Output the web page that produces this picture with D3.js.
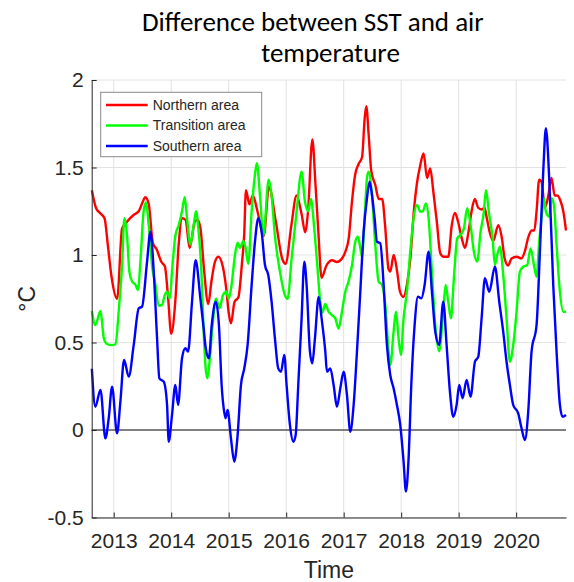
<!DOCTYPE html>
<html>
<head>
<meta charset="utf-8">
<script src="https://cdn.jsdelivr.net/npm/d3@7"></script>
<style>
  body { margin: 0; background: #fff; }
  svg { display: block; }
</style>
</head>
<body>
<svg id="chart" width="574" height="582"></svg>
<script>
// tick labels
var xTickYears = [2013, 2014, 2015, 2016, 2017, 2018, 2019, 2020];
var yTickValues = [-0.5, 0, 0.5, 1, 1.5, 2];
var yTickLabels = ["-0.5", "0", "0.5", "1", "1.5", "2"];

var seriesNames = ["Northern area", "Transition area", "Southern area"];
var titleLines = ["Difference between SST and air", "temperature"];

// [decimal year, difference in °C]
var northern = [
  [2012.62,1.37],[2012.69,1.27],[2012.76,1.24],[2012.84,1.21],[2012.90,1.05],[2012.96,0.88],
  [2013.06,0.75],[2013.145,1.15],[2013.23,1.19],[2013.35,1.23],[2013.435,1.25],[2013.50,1.30],
  [2013.55,1.33],[2013.61,1.29],[2013.68,1.07],[2013.75,1.03],[2013.83,0.96],[2013.89,0.935],
  [2013.945,0.76],[2014.00,0.55],[2014.07,0.73],[2014.13,1.06],[2014.19,1.21],[2014.25,1.20],
  [2014.32,1.04],[2014.41,1.19],[2014.46,1.20],[2014.51,1.15],[2014.57,0.92],[2014.645,0.72],
  [2014.70,0.85],[2014.76,0.96],[2014.82,0.99],[2014.90,0.93],[2014.96,0.80],[2015.00,0.67],
  [2015.04,0.61],[2015.10,0.73],[2015.17,0.76],[2015.23,0.95],[2015.27,1.12],[2015.30,1.37],
  [2015.36,1.29],[2015.42,1.34],[2015.50,1.25],[2015.61,1.11],[2015.70,1.39],[2015.82,1.19],
  [2015.93,0.98],[2015.99,0.95],[2016.09,1.17],[2016.18,1.34],[2016.27,1.23],[2016.33,1.13],
  [2016.38,1.25],[2016.455,1.66],[2016.51,1.40],[2016.56,1.13],[2016.615,0.87],[2016.70,0.94],
  [2016.80,0.97],[2016.88,0.96],[2016.97,0.98],[2017.03,1.02],[2017.09,1.10],[2017.14,1.29],
  [2017.20,1.46],[2017.26,1.52],[2017.32,1.56],[2017.365,1.78],[2017.393,1.85],[2017.434,1.69],
  [2017.48,1.48],[2017.55,1.40],[2017.61,1.32],[2017.67,1.32],[2017.72,1.17],[2017.78,0.92],
  [2017.81,0.905],[2017.87,1.0],[2017.93,0.905],[2017.98,0.79],[2018.04,0.76],[2018.10,0.83],
  [2018.16,0.98],[2018.22,1.25],[2018.27,1.40],[2018.33,1.51],[2018.39,1.58],[2018.45,1.44],
  [2018.505,1.495],[2018.56,1.36],[2018.62,1.19],[2018.68,1.01],[2018.74,0.99],[2018.82,0.99],
  [2018.88,1.17],[2018.935,1.24],[2018.99,1.19],[2019.05,1.10],[2019.11,1.04],[2019.17,1.13],
  [2019.225,1.25],[2019.28,1.32],[2019.34,1.27],[2019.40,1.26],[2019.45,1.27],[2019.49,1.21],
  [2019.54,1.13],[2019.60,1.08],[2019.69,1.17],[2019.75,1.10],[2019.80,0.98],[2019.86,0.94],
  [2019.92,0.98],[2020.01,0.99],[2020.09,0.98],[2020.15,1.02],[2020.21,1.10],[2020.27,1.14],
  [2020.315,1.14],[2020.355,1.25],[2020.40,1.43],[2020.44,1.42],[2020.50,1.27],[2020.56,1.34],
  [2020.615,1.44],[2020.67,1.34],[2020.715,1.34],[2020.77,1.31],[2020.82,1.25],[2020.867,1.14]
];

var transition = [
  [2012.62,0.68],[2012.68,0.60],[2012.77,0.68],[2012.83,0.52],[2012.89,0.49],[2012.97,0.485],
  [2013.03,0.49],[2013.087,0.68],[2013.145,0.94],[2013.186,1.21],[2013.232,1.11],[2013.272,0.905],
  [2013.318,0.85],[2013.377,0.83],[2013.42,0.80],[2013.464,0.96],[2013.52,1.25],[2013.562,1.30],
  [2013.609,1.17],[2013.667,0.94],[2013.725,0.83],[2013.783,0.71],[2013.841,0.715],[2013.887,0.77],
  [2013.928,0.79],[2013.974,0.75],[2014.014,0.905],[2014.072,1.11],[2014.13,1.17],[2014.188,1.25],
  [2014.235,1.33],[2014.275,1.21],[2014.333,1.06],[2014.391,1.17],[2014.432,1.25],[2014.478,1.13],
  [2014.525,0.905],[2014.565,0.56],[2014.60,0.35],[2014.63,0.295],[2014.67,0.40],[2014.72,0.60],
  [2014.78,0.75],[2014.84,0.695],[2014.90,0.77],[2014.96,0.79],[2015.00,0.75],[2015.05,0.83],
  [2015.109,1.0],[2015.155,1.07],[2015.196,1.04],[2015.254,1.08],[2015.294,1.04],[2015.341,0.95],
  [2015.399,1.25],[2015.457,1.46],[2015.49,1.524],[2015.544,1.34],[2015.604,1.11],[2015.695,1.43],
  [2015.746,1.34],[2015.804,1.11],[2015.891,0.905],[2015.978,0.77],[2016.025,0.75],[2016.094,0.98],
  [2016.181,1.25],[2016.268,1.476],[2016.326,1.305],[2016.384,1.25],[2016.43,1.32],[2016.488,1.15],
  [2016.546,0.92],[2016.587,0.75],[2016.628,0.67],[2016.68,0.72],[2016.738,0.676],[2016.796,0.657],
  [2016.854,0.638],[2016.912,0.58],[2016.97,0.676],[2017.028,0.79],[2017.086,0.85],[2017.144,0.94],
  [2017.202,1.076],[2017.248,1.105],[2017.289,1.04],[2017.318,0.99],[2017.364,1.21],[2017.405,1.44],
  [2017.434,1.476],[2017.492,1.343],[2017.55,1.057],[2017.608,0.848],[2017.666,0.829],[2017.724,0.714],
  [2017.781,0.448],[2017.81,0.371],[2017.868,0.562],[2017.909,0.676],[2017.955,0.524],[2017.996,0.429],
  [2018.042,0.638],[2018.10,0.79],[2018.158,1.019],[2018.216,1.21],[2018.274,1.286],[2018.332,1.248],
  [2018.373,1.248],[2018.431,1.295],[2018.477,1.21],[2018.535,0.905],[2018.593,0.60],[2018.66,0.45],
  [2018.732,0.676],[2018.773,0.829],[2018.819,0.733],[2018.865,0.638],[2018.917,0.867],[2018.975,1.095],
  [2019.033,1.114],[2019.091,1.152],[2019.149,1.267],[2019.207,1.171],[2019.265,1.019],[2019.323,0.962],
  [2019.381,1.133],[2019.439,1.248],[2019.474,1.371],[2019.532,1.229],[2019.59,1.095],[2019.631,0.943],
  [2019.671,1.0],[2019.718,1.048],[2019.775,0.886],[2019.833,0.638],[2019.891,0.39],[2019.949,0.486],
  [2020.007,0.676],[2020.065,0.905],[2020.123,0.933],[2020.193,0.943],[2020.251,1.038],[2020.309,0.943],
  [2020.355,0.876],[2020.401,1.076],[2020.442,1.21],[2020.483,1.324],[2020.517,1.248],[2020.575,1.219],
  [2020.616,1.324],[2020.657,1.286],[2020.703,1.057],[2020.761,0.79],[2020.819,0.676],[2020.867,0.676]
];

var southern = [
  [2012.62,0.35],[2012.68,0.133],[2012.77,0.229],[2012.855,-0.048],[2012.913,0.067],[2012.971,0.248],
  [2013.058,-0.019],[2013.116,0.162],[2013.18,0.40],[2013.261,0.305],[2013.348,0.486],[2013.435,0.695],
  [2013.493,0.705],[2013.58,0.962],[2013.638,1.133],[2013.696,0.905],[2013.754,0.524],[2013.794,0.295],
  [2013.87,0.276],[2013.928,0.143],[2013.957,-0.067],[2014.014,0.086],[2014.072,0.257],[2014.119,0.143],
  [2014.188,0.41],[2014.246,0.467],[2014.293,0.448],[2014.362,0.733],[2014.425,0.97],[2014.507,0.752],
  [2014.565,0.58],[2014.60,0.47],[2014.655,0.41],[2014.705,0.60],[2014.775,0.733],[2014.83,0.60],
  [2014.877,0.257],[2014.917,0.114],[2014.946,0.067],[2014.981,0.114],[2015.039,-0.048],[2015.097,-0.181],
  [2015.155,-0.029],[2015.213,0.257],[2015.271,0.352],[2015.329,0.486],[2015.399,0.829],[2015.457,1.076],
  [2015.515,1.21],[2015.573,1.133],[2015.631,0.943],[2015.688,0.886],[2015.746,0.733],[2015.804,0.524],
  [2015.862,0.352],[2015.909,0.333],[2015.967,0.429],[2016.007,0.257],[2016.065,0.029],[2016.123,-0.067],
  [2016.164,-0.03],[2016.21,0.257],[2016.268,0.638],[2016.315,0.962],[2016.355,0.829],[2016.413,0.448],
  [2016.454,0.381],[2016.5,0.524],[2016.565,0.76],[2016.616,0.638],[2016.68,0.45],[2016.709,0.333],
  [2016.767,0.352],[2016.825,0.257],[2016.883,0.133],[2016.941,0.238],[2016.999,0.333],[2017.057,0.2],
  [2017.115,-0.01],[2017.173,0.143],[2017.231,0.448],[2017.289,0.79],[2017.347,1.133],[2017.405,1.324],
  [2017.451,1.419],[2017.492,1.343],[2017.538,1.21],[2017.579,1.076],[2017.637,1.067],[2017.695,0.829],
  [2017.752,0.486],[2017.81,0.314],[2017.868,0.238],[2017.926,0.143],[2017.984,0.029],[2018.042,-0.181],
  [2018.083,-0.352],[2018.129,-0.162],[2018.176,0.257],[2018.234,0.60],[2018.292,0.762],[2018.35,0.752],
  [2018.408,0.829],[2018.477,1.019],[2018.535,0.79],[2018.593,0.562],[2018.66,0.486],[2018.732,0.733],
  [2018.79,0.486],[2018.848,0.219],[2018.906,0.076],[2018.964,0.143],[2019.01,0.257],[2019.068,0.181],
  [2019.138,0.286],[2019.207,0.19],[2019.283,0.39],[2019.341,0.419],[2019.399,0.638],[2019.457,0.867],
  [2019.532,0.79],[2019.631,0.933],[2019.706,0.733],[2019.775,0.562],[2019.833,0.39],[2019.891,0.257],
  [2019.949,0.143],[2020.036,0.095],[2020.094,0.01],[2020.152,-0.057],[2020.21,0.105],[2020.268,0.448],
  [2020.355,0.60],[2020.413,1.019],[2020.471,1.476],[2020.517,1.724],[2020.575,1.438],[2020.645,0.829],
  [2020.703,0.448],[2020.761,0.143],[2020.807,0.076],[2020.867,0.086]
];

var seriesColors = ["#ff0000", "#00ff00", "#0000ff"];
var textColor = "#262626";

var svg = d3.select("#chart");

var plot = { left: 91.7, right: 566, top: 80, bottom: 517.5 };

var x = d3.scaleLinear().domain([2012.617, 2020.867]).range([plot.left, plot.right]);
var y = d3.scaleLinear().domain([-0.5, 2]).range([plot.bottom, plot.top]);

// grid
var grid = svg.append("g").attr("class", "grid");
grid.selectAll(".vgrid")
  .data(xTickYears)
  .enter().append("line")
  .attr("x1", function (d) { return x(d); })
  .attr("x2", function (d) { return x(d); })
  .attr("y1", plot.top)
  .attr("y2", plot.bottom)
  .attr("stroke", "#e2e2e2")
  .attr("stroke-width", 1);
grid.selectAll(".hgrid")
  .data(yTickValues)
  .enter().append("line")
  .attr("x1", plot.left)
  .attr("x2", plot.right)
  .attr("y1", function (d) { return y(d); })
  .attr("y2", function (d) { return y(d); })
  .attr("stroke", "#e2e2e2")
  .attr("stroke-width", 1);

// zero reference line
svg.append("line")
  .attr("x1", plot.left)
  .attr("x2", plot.right)
  .attr("y1", y(0))
  .attr("y2", y(0))
  .attr("stroke", "#5a5a5a")
  .attr("stroke-width", 1.4);

// series
var line = d3.line()
  .x(function (d) { return x(d[0]); })
  .y(function (d) { return y(d[1]); })
  .curve(d3.curveMonotoneX);

[northern, transition, southern].forEach(function (series, i) {
  svg.append("path")
    .datum(series)
    .attr("d", line)
    .attr("fill", "none")
    .attr("stroke", seriesColors[i])
    .attr("stroke-width", 2.4)
    .attr("stroke-linejoin", "round");
});

// axes
var xAxis = svg.append("g")
  .attr("transform", "translate(0," + plot.bottom + ")")
  .call(d3.axisBottom(x)
    .tickValues(xTickYears)
    .tickFormat(d3.format("d"))
    .tickSizeInner(-5)
    .tickSizeOuter(0)
    .tickPadding(16));

var yAxis = svg.append("g")
  .attr("transform", "translate(" + plot.left + ",0)")
  .call(d3.axisLeft(y)
    .tickValues(yTickValues)
    .tickFormat(function (d, i) { return yTickLabels[i]; })
    .tickSizeInner(-5)
    .tickSizeOuter(0)
    .tickPadding(8));

[xAxis, yAxis].forEach(function (g) {
  g.attr("font-family", "'Liberation Sans', Arial, sans-serif").attr("font-size", 21);
  g.selectAll("path, line").attr("stroke", textColor);
  g.selectAll("text").attr("fill", textColor);
});

// axis labels
svg.append("text")
  .attr("x", (plot.left + plot.right) / 2)
  .attr("y", 578)
  .attr("text-anchor", "middle")
  .attr("font-family", "'Liberation Sans', Arial, sans-serif")
  .attr("font-size", 23)
  .attr("fill", textColor)
  .text("Time");

svg.append("text")
  .attr("transform", "translate(35," + (plot.top + plot.bottom) / 2 + ") rotate(-90)")
  .attr("text-anchor", "middle")
  .attr("font-family", "'Liberation Sans', Arial, sans-serif")
  .attr("font-size", 23)
  .attr("fill", textColor)
  .text("°C");

// title: two lines, sized so the first line spans roughly what the original does
var title = svg.append("g")
  .attr("font-family", "Carlito, Calibri, Lato, sans-serif")
  .attr("font-size", 25)
  .attr("fill", "#000");
var t1 = title.append("text").attr("x", 142).attr("y", 30.7).text(titleLines[0]);
var t2 = title.append("text").attr("y", 61.7).text(titleLines[1]);
var fs = 25 * 342 / t1.node().getComputedTextLength();
title.attr("font-size", fs);
t2.attr("x", 330.5 - t2.node().getComputedTextLength() / 2);

// legend
var legend = svg.append("g").attr("class", "legend");
legend.append("rect")
  .attr("x", 100.7)
  .attr("y", 92.3)
  .attr("width", 161)
  .attr("height", 64.4)
  .attr("fill", "#fff")
  .attr("stroke", "#8a8a8a")
  .attr("stroke-width", 1);

var items = legend.selectAll(".item")
  .data(seriesNames)
  .enter().append("g")
  .attr("transform", function (d, i) { return "translate(0," + (105 + i * 20.5) + ")"; });

items.append("line")
  .attr("x1", 106)
  .attr("x2", 147.7)
  .attr("stroke", function (d, i) { return seriesColors[i]; })
  .attr("stroke-width", 2.4);

items.append("text")
  .attr("x", 152.7)
  .attr("dy", "0.35em")
  .attr("font-family", "'Liberation Sans', Arial, sans-serif")
  .attr("font-size", 14)
  .attr("fill", textColor)
  .text(function (d) { return d; });
</script>
</body>
</html>
